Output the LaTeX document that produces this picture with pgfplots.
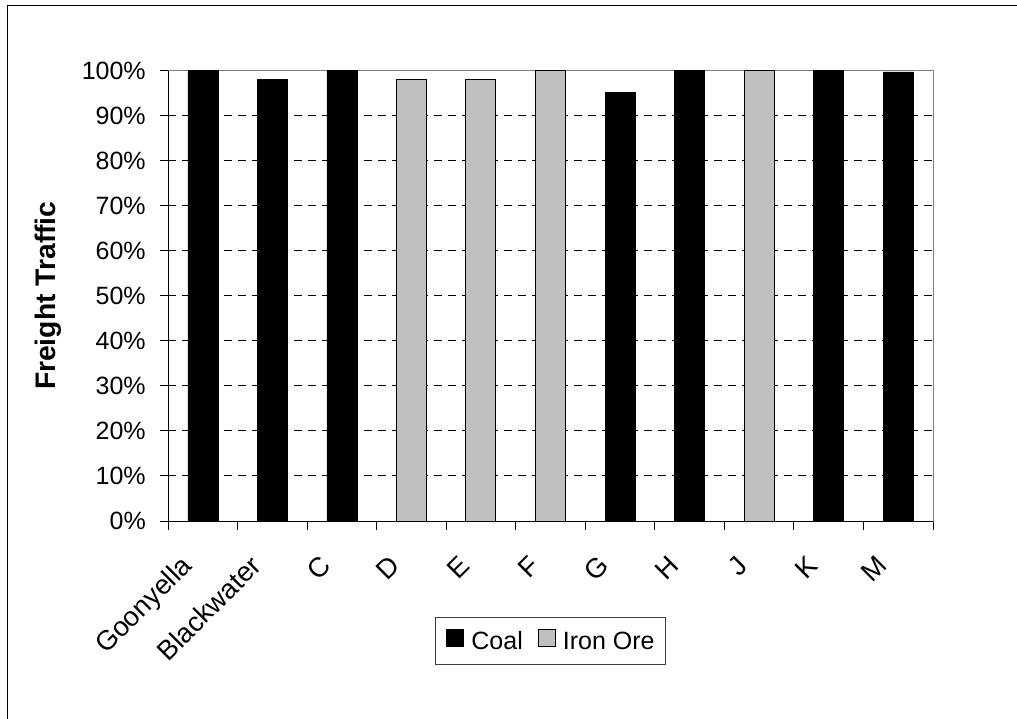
\documentclass[border=0pt]{standalone}
\usepackage{pgfplots}
\pgfplotsset{compat=1.18}
\usepackage{fontspec}
\setmainfont{Liberation Sans}
\definecolor{ironore}{HTML}{C0C0C0}
\definecolor{framegray}{HTML}{808080}
\begin{document}
\begin{tikzpicture}
\useasboundingbox (0,0) rectangle (762.75pt,-538.5pt);
\fill[white] (0,0) rectangle (762.75pt,-538.5pt);
% chart area frame
\draw[black, line width=0.75pt] (5.5pt,-3.75pt) rectangle (800pt,-600pt);
\begin{axis}[
  at={(126pt,-390.75pt)}, anchor=south west,
  scale only axis, width=573.75pt, height=337.875pt,
  ybar, bar width=22.5pt,
  xmin=-0.5, xmax=10.5, ymin=0, ymax=100,
  axis line style={framegray, line width=0.75pt},
  tick pos=left, tick align=outside,
  every tick/.style={black, line width=0.75pt},
  major tick length=6pt, minor tick length=6.75pt,
  xtick={0,...,10},
  xticklabels={Goonyella,Blackwater,C,D,E,F,G,H,J,K,M},
  minor xtick={-0.5,0.5,...,10.5},
  major x tick style={draw=none},
  ytick={0,10,...,100},
  yticklabels={0\%,10\%,20\%,30\%,40\%,50\%,60\%,70\%,80\%,90\%,100\%},
  ymajorgrids,
  grid style={black, line width=0.75pt, dash pattern=on 6pt off 4.5pt},
  tick label style={font=\fontsize{18.75}{22}\selectfont},
  yticklabel style={inner sep=0pt, xshift=-10.5pt},
  xticklabel style={font=\fontsize{20.5}{24}\selectfont, inner sep=0pt,
    text height=0.75em, text depth=0.2em,
    xshift=-9pt, yshift=-27pt, rotate=45, anchor=east},
  ylabel={Freight Traffic},
  every axis y label/.style={at={(axis description cs:-0.1569,0.5)},
    anchor=center, rotate=90, font=\fontsize{21.2}{25}\selectfont\bfseries},
  legend columns=2,
  legend image code/.code={\draw[#1, line width=0.75pt] (0pt,0pt) rectangle (12.75pt,12.75pt);},
  legend style={at={(0.5,-0.266)}, anchor=center, draw=black!75, line width=0.75pt,
    font=\fontsize{18.75}{22}\selectfont, inner xsep=8.5pt, inner ysep=9pt,
    nodes={inner sep=0pt, text height=0.72em, text depth=0.2em},
    /tikz/every odd column/.append style={column sep=5.25pt},
    /tikz/every even column/.append style={column sep=11.25pt}},
]
\addplot[fill=black, draw=black, bar shift=0pt] coordinates {
  (0,100) (1,98.1) (2,100) (6,95.2) (7,100) (9,100) (10,99.7)};
\addlegendentry{Coal}
\addplot[fill=ironore, draw=black, line width=0.75pt, bar shift=0pt] coordinates {
  (3,98.0) (4,98.0) (5,100) (8,100)};
\addlegendentry{Iron Ore}
\draw[black, line width=0.75pt] (rel axis cs:0,1) -- (rel axis cs:0,0) -- (rel axis cs:1,0);
\end{axis}
\end{tikzpicture}
\end{document}
